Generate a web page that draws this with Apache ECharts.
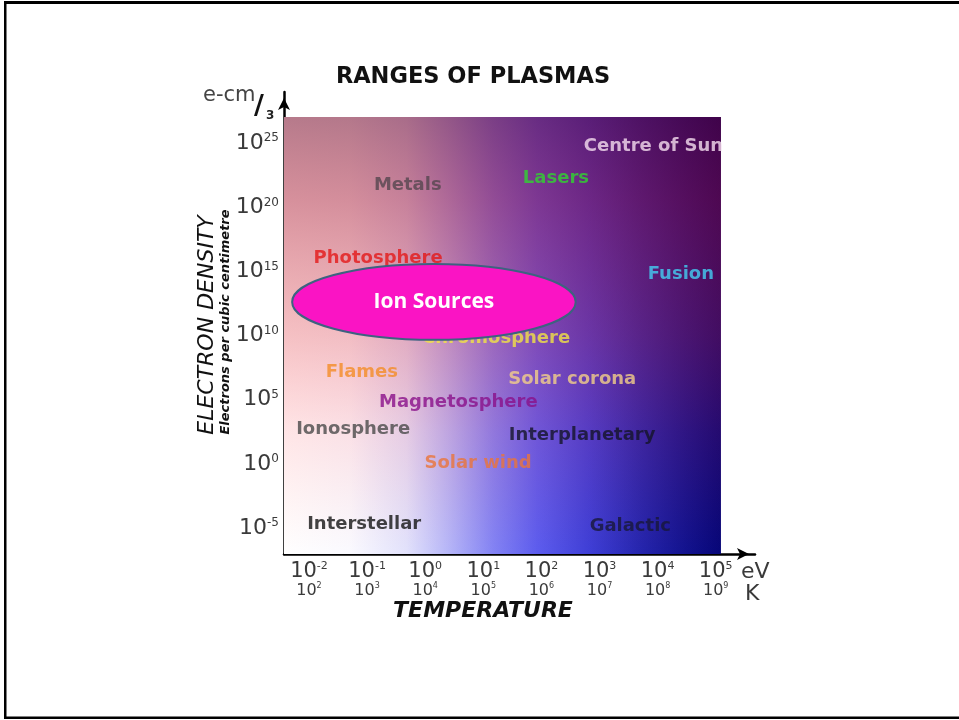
<!DOCTYPE html>
<html>
<head>
<meta charset="utf-8">
<script src="https://cdn.jsdelivr.net/npm/echarts@6/dist/echarts.min.js"></script>
<style>
  html, body { margin: 0; padding: 0; background: #ffffff; }
  #chart { width: 959px; height: 720px; }
</style>
</head>
<body>
<div id="chart"></div>
<script>
// Axes are in decades: x = log10(temperature / eV), y = log10(electrons per cm^3)
const eVExponents = [-2, -1, 0, 1, 2, 3, 4, 5];
const kelvinShift = 4;                       // 1 eV is about 10^4 K
const densityExponents = [-5, 0, 5, 10, 15, 20, 25];

// Extent of the axes (up to the arrow tips) and of the coloured field
const tempAxisRange = [-2.43, 5.676];
const densityAxisRange = [-7.03, 29.0];
const fieldTempRange = [-2.43, 5.09];
const fieldDensityRange = [-7.03, 27.06];

// Plasma types placed at their typical temperature / density
const plasmaNames = ['Centre of Sun', 'Lasers', 'Metals', 'Photosphere', 'Fusion', 'Chromosphere',
  'Flames', 'Solar corona', 'Magnetosphere', 'Ionosphere', 'Interplanetary', 'Solar wind',
  'Interstellar', 'Galactic'];
const plasmaTemp = [2.73, 2.25, -0.30, -0.81, 4.40, 1.22, -1.09, 2.53, 0.57, -1.24, 2.70, 0.91, -1.05, 3.53];
const plasmaDensity = [24.8, 22.3, 21.7, 16.0, 14.8, 9.8, 7.1, 6.6, 4.8, 2.7, 2.25, 0.07, -4.7, -4.9];
const plasmaColors = ['#f6dff0', '#30d430', '#55464f', '#e41818', '#44d0f4', '#f2e444', '#f48c26',
  '#f4d088', '#8a108a', '#4a4a4a', '#141428', '#ea743a', '#141414', '#181838'];

// Highlighted ion-source region: centre and half-extent, in decades
const ionSourceCenter = [0.15, 12.63];
const ionSourceHalfSpan = [2.44, 2.96];

const labelData = plasmaNames.map((name, i) => ({
  name: name,
  value: [plasmaTemp[i], plasmaDensity[i]],
  label: { color: plasmaColors[i], align: i === 0 ? 'left' : 'center' }
}));

const chart = echarts.init(document.getElementById('chart'), null, { renderer: 'canvas' });

const axisTextColor = '#3a3a3a';

chart.setOption({
  animation: false,
  backgroundColor: '#ffffff',
  grid: { left: 284, top: 92, width: 471, height: 462, containLabel: false },
  xAxis: {
    type: 'value',
    min: tempAxisRange[0],
    max: tempAxisRange[1],
    splitLine: { show: false },
    axisTick: { show: false },
    axisLine: {
      show: true, onZero: false,
      symbol: ['none', 'arrow'], symbolSize: [9, 12], symbolOffset: [0, -6],
      lineStyle: { color: '#000000', width: 2.5 }
    },
    axisLabel: {
      customValues: eVExponents,
      margin: 7,
      formatter: (v) => '{b|10}{s|' + v + '}\n{k|10}{ks|' + (v + kelvinShift) + '}',
      rich: {
        b: { fontFamily: 'DejaVu Sans', fontSize: 21, lineHeight: 21, color: axisTextColor },
        s: { fontFamily: 'DejaVu Sans', fontSize: 11, lineHeight: 21, verticalAlign: 'top', color: axisTextColor },
        k: { fontFamily: 'DejaVu Sans', fontSize: 16, lineHeight: 18, color: axisTextColor },
        ks: { fontFamily: 'DejaVu Sans', fontSize: 8, lineHeight: 18, verticalAlign: 'top', color: axisTextColor }
      }
    }
  },
  yAxis: {
    type: 'value',
    min: densityAxisRange[0],
    max: densityAxisRange[1],
    splitLine: { show: false },
    axisTick: { show: false },
    axisLine: {
      show: true, onZero: false,
      symbol: ['none', 'arrow'], symbolSize: [9, 12], symbolOffset: [0, -6],
      lineStyle: { color: '#000000', width: 2.5 }
    },
    axisLabel: {
      customValues: densityExponents,
      margin: 5,
      formatter: (v) => '{b|10}{s|' + v + '}',
      rich: {
        b: { fontFamily: 'DejaVu Sans', fontSize: 22, lineHeight: 22, color: axisTextColor },
        s: { fontFamily: 'DejaVu Sans', fontSize: 12, lineHeight: 22, verticalAlign: 'top', color: axisTextColor }
      }
    }
  },
  series: [
    {
      type: 'scatter',
      z: 3,
      symbolSize: 0,
      silent: true,
      data: labelData,
      label: {
        show: true,
        position: 'inside',
        verticalAlign: 'middle',
        formatter: '{b}',
        fontFamily: 'DejaVu Sans',
        fontWeight: 'bold',
        fontSize: 18
      },
      markArea: {
        silent: true,
        label: { show: false },
        data: [
          [
            {
              coord: [fieldTempRange[0], fieldDensityRange[0]],
              itemStyle: {
                color: {
                  type: 'linear', x: 0, y: 0, x2: 1, y2: 0,
                  colorStops: [
                    { offset: 0, color: '#ffffff' },
                    { offset: 0.15, color: '#fafaff' },
                    { offset: 0.28, color: '#e2e2fc' },
                    { offset: 0.38, color: '#b4b4f8' },
                    { offset: 0.48, color: '#8282f4' },
                    { offset: 0.58, color: '#5c5cee' },
                    { offset: 0.7, color: '#3e3ed6' },
                    { offset: 0.82, color: '#2424ac' },
                    { offset: 0.92, color: '#12128e' },
                    { offset: 1, color: '#060678' }
                  ]
                }
              }
            },
            { coord: [fieldTempRange[1], fieldDensityRange[1]] }
          ],
          [
            {
              coord: [fieldTempRange[0], fieldDensityRange[0]],
              itemStyle: {
                color: {
                  type: 'linear', x: 0, y: 0, x2: 0, y2: 1,
                  colorStops: [
                    { offset: 0, color: 'rgba(115,0,32,0.52)' },
                    { offset: 0.19, color: 'rgba(165,10,35,0.45)' },
                    { offset: 0.5, color: 'rgba(220,30,40,0.28)' },
                    { offset: 0.72, color: 'rgba(255,40,50,0.12)' },
                    { offset: 1, color: 'rgba(255,60,60,0)' }
                  ]
                }
              }
            },
            { coord: [fieldTempRange[1], fieldDensityRange[1]] }
          ]
        ]
      }
    },
    {
      type: 'custom',
      z: 5,
      silent: true,
      data: [[ionSourceCenter[0], ionSourceCenter[1], ionSourceHalfSpan[0], ionSourceHalfSpan[1]]],
      renderItem: function (params, api) {
        const c = api.coord([api.value(0), api.value(1)]);
        const s = api.size([api.value(2), api.value(3)]);
        return {
          type: 'group',
          children: [
            {
              type: 'ellipse',
              shape: { cx: c[0], cy: c[1], rx: s[0], ry: s[1] },
              style: { fill: '#fa14c4', stroke: '#3d6280', lineWidth: 2 }
            },
            {
              type: 'text',
              x: c[0], y: c[1],
              style: {
                text: 'Ion Sources', fill: '#ffffff',
                fontFamily: 'Open Sans', fontWeight: 'bold', fontSize: 21,
                align: 'center', verticalAlign: 'middle'
              }
            }
          ]
        };
      }
    }
  ],
  graphic: [
    // page frame
    { type: 'rect', shape: { x: 4, y: 1, width: 955, height: 3 }, style: { fill: '#000' }, silent: true },
    { type: 'rect', shape: { x: 4, y: 1, width: 2.5, height: 718 }, style: { fill: '#000' }, silent: true },
    { type: 'rect', shape: { x: 4, y: 716.5, width: 955, height: 2.5 }, style: { fill: '#000' }, silent: true },
    // title
    {
      type: 'text', x: 473, y: 77, silent: true,
      style: { text: 'RANGES OF PLASMAS', fill: '#111', fontFamily: 'DejaVu Sans', fontWeight: 'bold',
        fontSize: 22.5, align: 'center', verticalAlign: 'middle' }
    },
    // density unit
    {
      type: 'text', x: 203, y: 96, silent: true,
      style: { text: 'e-cm', fill: '#444', fontFamily: 'DejaVu Sans', fontSize: 21, align: 'left', verticalAlign: 'middle' }
    },
    {
      type: 'text', x: 254, y: 107, silent: true,
      style: { text: '/', fill: '#111', fontFamily: 'DejaVu Sans', fontWeight: 'bold', fontSize: 27, align: 'left', verticalAlign: 'middle' }
    },
    {
      type: 'text', x: 266, y: 116, silent: true,
      style: { text: '3', fill: '#222', fontFamily: 'DejaVu Sans', fontWeight: 'bold', fontSize: 12, align: 'left', verticalAlign: 'middle' }
    },
    // y axis titles
    {
      type: 'text', x: 207, y: 325, rotation: Math.PI / 2, silent: true,
      style: { text: 'ELECTRON DENSITY', fill: '#111', fontFamily: 'DejaVu Sans', fontStyle: 'italic',
        fontSize: 22, align: 'center', verticalAlign: 'middle' }
    },
    {
      type: 'text', x: 226, y: 322, rotation: Math.PI / 2, silent: true,
      style: { text: 'Electrons per cubic centimetre', fill: '#111', fontFamily: 'DejaVu Sans', fontStyle: 'italic',
        fontWeight: 'bold', fontSize: 13, align: 'center', verticalAlign: 'middle' }
    },
    // x axis units and title
    {
      type: 'text', x: 741, y: 572, silent: true,
      style: { text: 'eV', fill: axisTextColor, fontFamily: 'DejaVu Sans', fontSize: 22, align: 'left', verticalAlign: 'middle' }
    },
    {
      type: 'text', x: 745, y: 594, silent: true,
      style: { text: 'K', fill: axisTextColor, fontFamily: 'DejaVu Sans', fontSize: 22, align: 'left', verticalAlign: 'middle' }
    },
    {
      type: 'text', x: 483, y: 611, silent: true,
      style: { text: 'TEMPERATURE', fill: '#111', fontFamily: 'DejaVu Sans', fontStyle: 'italic', fontWeight: 'bold',
        fontSize: 22, align: 'center', verticalAlign: 'middle' }
    }
  ]
});
</script>
</body>
</html>
